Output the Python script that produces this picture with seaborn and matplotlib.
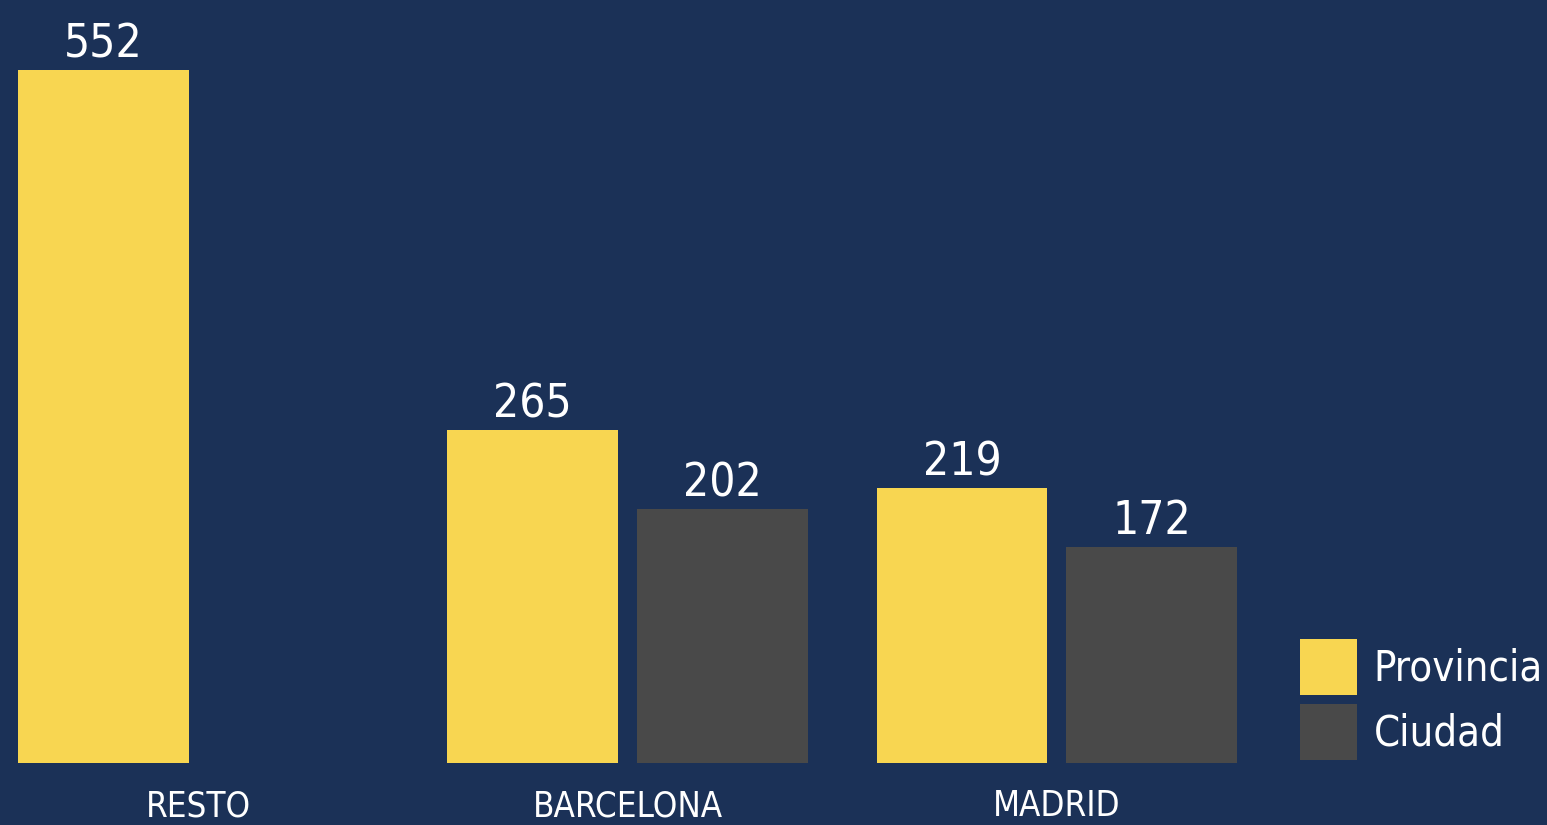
import matplotlib
matplotlib.use('Agg')
import matplotlib.pyplot as plt
from matplotlib import font_manager
import seaborn as sns
import pandas as pd

# Data
categories = ['RESTO', 'BARCELONA', 'MADRID']
provincia = [552, 265, 219]
ciudad = [None, 202, 172]
series_names = ['Provincia', 'Ciudad']

bg = '#1B3157'
colors = ['#F8D651', '#494949']

rows = []
for cat, p, c in zip(categories, provincia, ciudad):
    rows.append({'zona': cat, 'tipo': 'Provincia', 'valor': p})
    if c is not None:
        rows.append({'zona': cat, 'tipo': 'Ciudad', 'valor': c})
df = pd.DataFrame(rows)

sns.set_style('dark')
names = {f.name for f in font_manager.fontManager.ttflist}
if 'Liberation Sans Narrow' in names:
    font_kw = dict(family='Liberation Sans Narrow')
else:
    font_kw = dict(family='DejaVu Sans', stretch='condensed')

fig = plt.figure(figsize=(15.47, 8.25), dpi=100, facecolor=bg)
ax = fig.add_axes([0, 62 / 825, 1, 763 / 825])
ax.set_facecolor(bg)

sns.barplot(data=df, x='zona', y='valor', hue='tipo', order=categories,
            hue_order=series_names, palette=colors, width=0.884, gap=0.1,
            saturation=1, linewidth=0, ax=ax, legend=True)

for cont in ax.containers:
    ax.bar_label(cont, fmt='%d', padding=2, color='white', fontsize=33, **font_kw)

ax.set_xlim(-0.461, 3.141)
ax.set_ylim(0, 607.8)
ax.set_yticks([])
ax.set_xlabel('')
ax.set_ylabel('')
ax.tick_params(axis='x', length=0, pad=19, colors='white')
for lbl in ax.get_xticklabels():
    lbl.set_fontsize(25)
    lbl.set_color('white')
    lbl.set_fontfamily(font_kw['family'])
    if 'stretch' in font_kw:
        lbl.set_fontstretch(font_kw['stretch'])
for s in ax.spines.values():
    s.set_visible(False)
ax.grid(False)

leg = ax.legend(loc='lower left', bbox_to_anchor=(1300 / 1547, 65 / 825),
                bbox_transform=fig.transFigure, frameon=False, borderpad=0,
                handlelength=1.37, handleheight=1.7, handletextpad=0.4,
                labelspacing=0.2, borderaxespad=0,
                prop=font_manager.FontProperties(size=30, **font_kw))
for t in leg.get_texts():
    t.set_color('white')

fig.savefig('out.png', dpi=100, facecolor=bg)
